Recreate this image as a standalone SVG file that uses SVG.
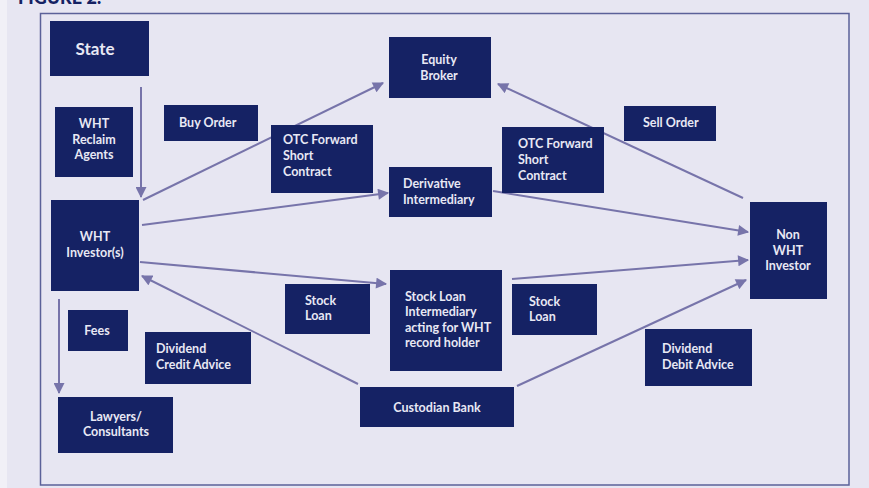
<svg xmlns="http://www.w3.org/2000/svg" width="869" height="488" viewBox="0 0 869 488">
<style>
.bx{fill:#152264}
.t{font-family:Lato,"Open Sans","Liberation Sans",sans-serif;font-weight:700;font-size:12.5px;fill:#e8e8f4}
.c{text-anchor:middle}
.ln{stroke:#7774aa;stroke-width:2;fill:none}
</style>
<defs>
<marker id="ah" viewBox="0 0 10 10" refX="9" refY="5" markerWidth="6" markerHeight="5.5" markerUnits="strokeWidth" orient="auto">
<path d="M0,0 L10,5 L0,10 z" fill="#7774aa"/>
</marker>
</defs>
<rect x="0" y="0" width="869" height="488" fill="#e7e6f2"/>
<rect x="0" y="0" width="7" height="488" fill="#f1f0f7"/>
<text x="18" y="3.5" style="font-family:Lato,'Liberation Sans',sans-serif;font-weight:900;font-size:18px;fill:#152264">FIGURE 2:</text>
<rect x="40.5" y="13.5" width="808.5" height="471.5" fill="none" stroke="#5b6199" stroke-width="1.5"/>

<g id="connectors">
<line class="ln" x1="141" y1="87" x2="141" y2="197" marker-end="url(#ah)"/>
<line class="ln" x1="143" y1="200" x2="383" y2="83" marker-end="url(#ah)"/>
<line class="ln" x1="142" y1="225" x2="388" y2="193" marker-end="url(#ah)"/>
<line class="ln" x1="140" y1="262" x2="386" y2="284" marker-end="url(#ah)"/>
<line class="ln" x1="358" y1="384" x2="142" y2="276" marker-end="url(#ah)"/>
<line class="ln" x1="59" y1="299" x2="59" y2="393" marker-end="url(#ah)"/>
<line class="ln" x1="743" y1="198" x2="498" y2="84" marker-end="url(#ah)"/>
<line class="ln" x1="493" y1="191" x2="748" y2="232" marker-end="url(#ah)"/>
<line class="ln" x1="512" y1="279" x2="748" y2="260" marker-end="url(#ah)"/>
<line class="ln" x1="517" y1="386" x2="746" y2="280" marker-end="url(#ah)"/>
</g>

<g id="state"><rect class="bx" x="50" y="21" width="99" height="55"/><text class="t c" x="95" y="55" style="font-size:17px">State</text></g>
<g id="wht-reclaim"><rect class="bx" x="55" y="107" width="78" height="70"/><text class="t c" x="94" y="128">WHT</text><text class="t c" x="94" y="144">Reclaim</text><text class="t c" x="94" y="159">Agents</text></g>
<g id="buy-order"><rect class="bx" x="164" y="105" width="94" height="36"/><text class="t" x="179" y="127">Buy Order</text></g>
<g id="otc-left"><rect class="bx" x="271" y="125" width="102" height="68"/><text class="t" x="283" y="144">OTC Forward</text><text class="t" x="283" y="160">Short</text><text class="t" x="283" y="176">Contract</text></g>
<g id="equity-broker"><rect class="bx" x="389" y="37" width="102" height="61"/><text class="t c" x="439" y="64">Equity</text><text class="t c" x="439" y="80">Broker</text></g>
<g id="derivative"><rect class="bx" x="389" y="167" width="103" height="50"/><text class="t" x="403" y="188">Derivative</text><text class="t" x="403" y="204">Intermediary</text></g>
<g id="otc-right"><rect class="bx" x="502" y="127" width="102" height="66"/><text class="t" x="518" y="148">OTC Forward</text><text class="t" x="518" y="164">Short</text><text class="t" x="518" y="180">Contract</text></g>
<g id="sell-order"><rect class="bx" x="624" y="106" width="92" height="35"/><text class="t" x="643" y="127">Sell Order</text></g>
<g id="non-wht"><rect class="bx" x="750" y="202" width="77" height="97"/><text class="t c" x="788" y="239">Non</text><text class="t c" x="788" y="255">WHT</text><text class="t c" x="788" y="270">Investor</text></g>
<g id="wht-investor"><rect class="bx" x="51" y="200" width="88" height="91"/><text class="t c" x="95" y="241">WHT</text><text class="t c" x="95" y="257">Investor(s)</text></g>
<g id="fees"><rect class="bx" x="68" y="310" width="60" height="41"/><text class="t c" x="97" y="335">Fees</text></g>
<g id="div-credit"><rect class="bx" x="145" y="332" width="106" height="52"/><text class="t" x="156" y="353">Dividend</text><text class="t" x="156" y="369">Credit Advice</text></g>
<g id="lawyers"><rect class="bx" x="58" y="397" width="115" height="56"/><text class="t c" x="116" y="421">Lawyers/</text><text class="t c" x="116" y="436">Consultants</text></g>
<g id="stock-loan-left"><rect class="bx" x="285" y="284" width="85" height="50"/><text class="t" x="305" y="305">Stock</text><text class="t" x="305" y="320">Loan</text></g>
<g id="stock-loan-int"><rect class="bx" x="390" y="270" width="112" height="101"/><text class="t" x="405" y="301">Stock Loan</text><text class="t" x="405" y="316">Intermediary</text><text class="t" x="405" y="332">acting for WHT</text><text class="t" x="405" y="347">record holder</text></g>
<g id="stock-loan-right"><rect class="bx" x="512" y="284" width="85" height="51"/><text class="t" x="529" y="306">Stock</text><text class="t" x="529" y="321">Loan</text></g>
<g id="custodian"><rect class="bx" x="360" y="387" width="154" height="40"/><text class="t c" x="437" y="412">Custodian Bank</text></g>
<g id="div-debit"><rect class="bx" x="645" y="329" width="107" height="57"/><text class="t" x="662" y="353">Dividend</text><text class="t" x="662" y="369">Debit Advice</text></g>
</svg>
